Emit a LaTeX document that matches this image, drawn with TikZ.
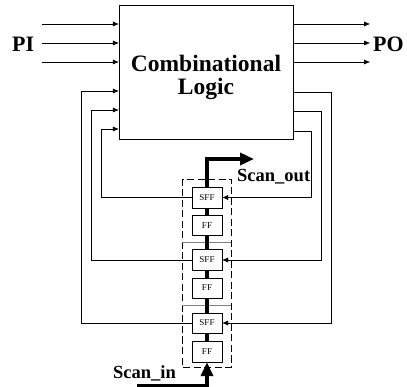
\documentclass[tikz,border=0pt]{standalone}
\usepackage{fontspec}
\setmainfont{Liberation Serif}
\usetikzlibrary{arrows.meta,positioning}

\begin{document}
\begin{tikzpicture}[
    x=1pt, y=-1pt,
    blk/.style={rectangle, draw, inner sep=0pt},
    cell/.style={rectangle, draw, minimum width=30pt, minimum height=21pt,
                 inner sep=0pt, font=\fontsize{9}{9}\selectfont},
    big/.style={font=\fontsize{22}{22}\selectfont\bfseries, inner sep=0pt},
    lbl/.style={font=\fontsize{18.5}{18}\selectfont\bfseries, inner sep=0pt},
    e/.style={-{Latex[length=6pt, width=5pt]}},
    sc/.style={line width=3.5pt},
    sce/.style={line width=3.5pt, -{Triangle[length=14pt, width=12pt]}},
  ]
  \useasboundingbox (0,0) rectangle (407,387);
  % combinational block
  \node[blk, minimum width=174pt, minimum height=134pt] (logic) at (206,72) {};
  \node[big, align=center, font=\fontsize{23.5}{23}\selectfont\bfseries] (ltxt) at (206,77) {Combinational\\Logic};
  % primary inputs / outputs
  \coordinate (pi1) at (42,24);
  \coordinate (pi2) at (42,43);
  \coordinate (pi3) at (42,62);
  \coordinate (po1) at (370,24);
  \coordinate (po2) at (370,43);
  \coordinate (po3) at (370,62);
  \node[big, anchor=base west] (pi) at (12,52) {PI};
  \node[big, anchor=base west] (po) at (373,52) {PO};
  \foreach \i in {1,2,3} {
    \draw[e] (pi\i) -- (pi\i -| logic.west);
    \draw[e] (po\i -| logic.east) -- (po\i);
  }
  % scan chain cells
  \node[cell] (sff1) at (207,197.5) {SFF};
  \node[cell, minimum height=20pt] (ff1) at (207,225.5) {FF};
  \node[cell] (sff2) at (207,260) {SFF};
  \node[cell, minimum height=20pt] (ff2) at (207,288) {FF};
  \node[cell, minimum height=20pt] (sff3) at (207,323) {SFF};
  \node[cell] (ff3) at (207,351.5) {FF};
  \draw[dash pattern=on 7pt off 3.5pt] (182,179) rectangle (231,367);
  \draw[gray] (182,242) -- (231,242);
  \draw[gray] (182,305) -- (231,305);
  % feedback: logic outputs to scan cells
  \draw[e] (logic.east |- 0,92) -| (331,323) -- (sff3.east);
  \draw[e] (logic.east |- 0,111) -| (321,260) -- (sff2.east);
  \draw[e] (logic.east |- 0,131) -| (311,197.5) -- (sff1.east);
  % feedback: scan cells to logic inputs
  \draw[e] (sff3.west) -| (81,91) -- (logic.west |- 0,91);
  \draw[e] (sff2.west) -| (91,110) -- (logic.west |- 0,110);
  \draw[e] (sff1.west) -| (101,129) -- (logic.west |- 0,129);
  % scan path
  \coordinate (sin) at (137,386);
  \coordinate (sout) at (254,159);
  \draw[sce] (sin) -| (ff3.south);
  \draw[sc] (ff3.north) -- (sff3.south);
  \draw[sc] (sff3.north) -- (ff2.south);
  \draw[sc] (ff2.north) -- (sff2.south);
  \draw[sc] (sff2.north) -- (ff1.south);
  \draw[sc] (ff1.north) -- (sff1.south);
  \draw[sce] (sff1.north) |- (sout);
  \node[lbl, anchor=base west] (sotxt) at (237,182) {Scan\_out};
  \node[lbl, anchor=base west] (sitxt) at (113,378) {Scan\_in};
\end{tikzpicture}
\end{document}
